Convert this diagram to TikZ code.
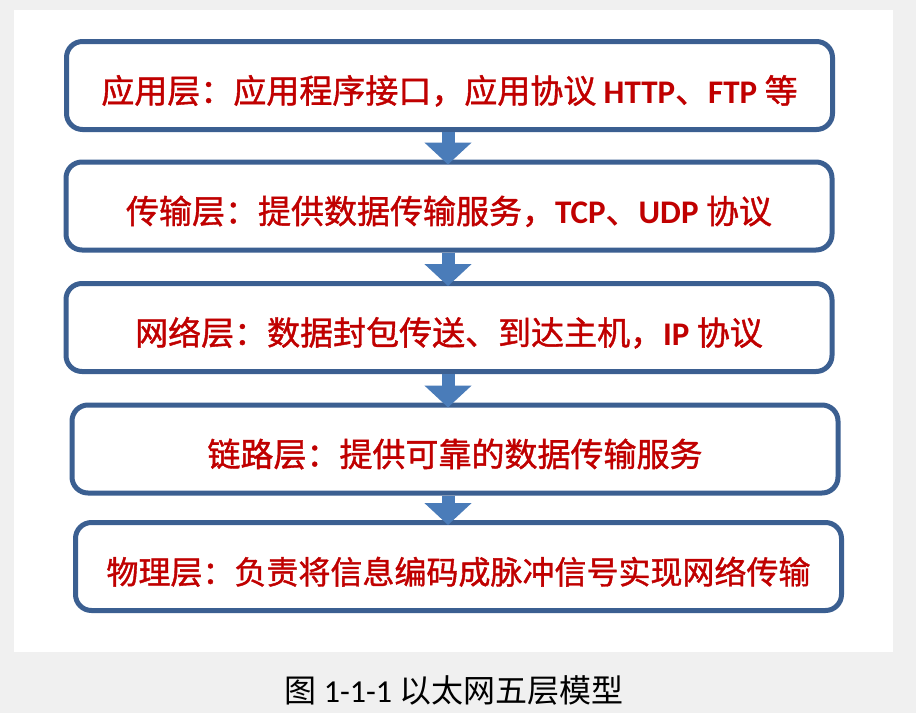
\documentclass[tikz,border=0pt]{standalone}
\usepackage{fontspec}
\setmainfont{Carlito}
\newfontfamily\cjk{Noto Sans CJK SC}
\newfontfamily\cjkbold{Noto Sans CJK SC}[FakeBold=1.2]
\newfontfamily\latin{Carlito}
\usetikzlibrary{arrows.meta,positioning,calc}
\definecolor{page}{HTML}{F0F0F0}
\definecolor{frame}{HTML}{3B5F91}
\definecolor{flowc}{HTML}{4A7CB9}
\definecolor{redtxt}{HTML}{C00000}
\newcommand{\lat}[1]{{\latin\bfseries #1}}
\tikzset{
  layer/.style={draw=frame, line width=5pt, fill=white, rounded corners=16pt,
    minimum width=766pt, minimum height=88pt, inner sep=0pt, align=center,
    text=redtxt, text height=40pt, text depth=5pt,
    font=\cjkbold\fontsize{33}{40}\selectfont},
  flow/.style={-{Triangle[width=46pt,length=22pt]}, line width=13pt, draw=flowc, shorten >=-5pt},
  captxt/.style={font=\fontsize{32}{38}\selectfont, text=black},
}
\begin{document}
\begin{tikzpicture}[x=1pt,y=-1pt]
  \fill[page] (0,0) rectangle (916,713);
  \fill[white] (14,10) rectangle (893,652);
  \useasboundingbox (0,0) rectangle (916,713);
  \node[layer] (app) at (449.5,85.5) {应用层：应用程序接口，应用协议 \lat{HTTP}、\lat{FTP} 等};
  \node[layer] (trans) at (449,206) {传输层：提供数据传输服务，\lat{TCP}、\lat{UDP} 协议};
  \node[layer] (net) at (449,327.5) {网络层：数据封包传送、到达主机，\lat{IP} 协议};
  \node[layer] (link) at (455,449) {链路层：提供可靠的数据传输服务};
  \node[layer, font=\cjkbold\fontsize{32}{40}\selectfont] (phys) at (458.5,566.5) {物理层：负责将信息编码成脉冲信号实现网络传输};
  \coordinate (axis) at (448,0);
  \foreach \a/\b in {app/trans,trans/net,net/link,link/phys}
    \draw[flow] (\a.south -| axis) -- (\b.north -| axis);
  \node[captxt] (caption) at (454,690) {{\cjk 图} 1-1-1 {\cjk 以太网五层模型}};
\end{tikzpicture}
\end{document}
